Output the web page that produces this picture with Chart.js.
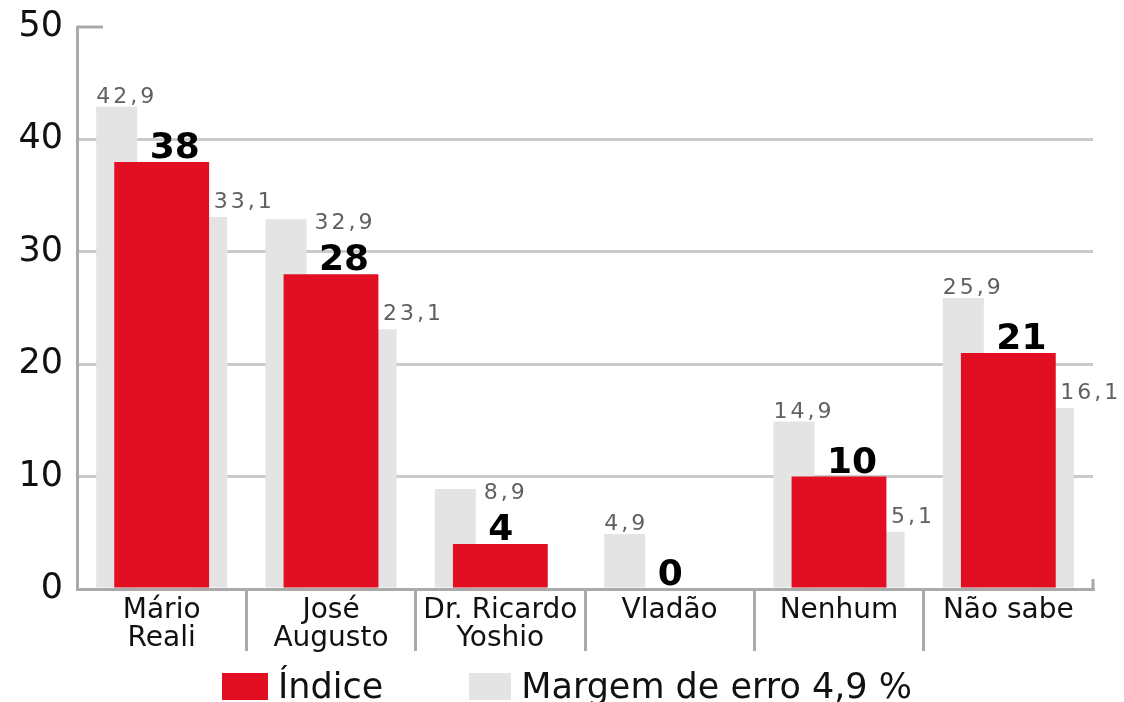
<!DOCTYPE html>
<html>
<head>
<meta charset="utf-8">
<script src="https://cdn.jsdelivr.net/npm/chart.js@4.4.1/dist/chart.umd.min.js"></script>
<style>
  html, body { margin: 0; padding: 0; background: #fff; overflow: hidden; }
  #wrap { position: relative; width: 1124px; height: 702px; overflow: hidden; }
  #legend { position: absolute; left: 222px; top: 673px; display: flex; align-items: center;
            font-family: "DejaVu Sans", sans-serif; font-size: 35px; color: #111; line-height: 27px; }
  #legend .box { display: inline-block; height: 27px; margin-right: 10px; }
  #legend .item { display: flex; align-items: center; margin-right: 86px; }
</style>
</head>
<body>
<div id="wrap">
  <canvas id="chart" width="1124" height="702"></canvas>
  <div id="legend"></div>
</div>
<script>
// data
const categories = [['Mário', 'Reali'], ['José', 'Augusto'], ['Dr. Ricardo', 'Yoshio'], ['Vladão'], ['Nenhum'], ['Não sabe']];
const indice = [38, 28, 4, 0, 10, 21];
const margemAlta = [42.9, 32.9, 8.9, 4.9, 14.9, 25.9];
const margemBaixa = [33.1, 23.1, null, null, 5.1, 16.1];
const yTicks = [0, 10, 20, 30, 40, 50];
const seriesNames = ['Índice', 'Margem de erro 4,9 %'];

const RED = '#e20e21';
const GRAY = '#e3e4e3';
const AXIS = '#aaaaaa';

Chart.defaults.font.family = '"DejaVu Sans", sans-serif';

// upper margin labels that sit beside the bar instead of on top
const besideLabels = [1, 2];

const valueLabels = {
  id: 'valueLabels',
  afterDatasetsDraw(chart) {
    const ctx = chart.ctx;
    ctx.save();
    chart.data.datasets.forEach((ds, di) => {
      const meta = chart.getDatasetMeta(di);
      meta.data.forEach((bar, i) => {
        const v = ds.data[i];
        if (v === null || v === undefined) return;
        ctx.textAlign = 'left';
        ctx.textBaseline = 'alphabetic';
        if (di === 0) {
          ctx.font = 'bold 36px "DejaVu Sans"';
          ctx.fillStyle = '#000';
          ctx.letterSpacing = '0px';
          ctx.fillText(String(v), bar.x - 12, bar.y - 4);
          return;
        }
        ctx.font = '22px "DejaVu Sans"';
        ctx.fillStyle = '#606060';
        ctx.letterSpacing = '3px';
        const txt = v.toFixed(1).replace('.', ',');
        if (di === 1) {
          if (besideLabels.includes(i)) {
            ctx.fillText(txt, bar.x + bar.width / 2 + 8, bar.y + 10);
          } else {
            ctx.fillText(txt, bar.x - bar.width / 2, bar.y - 4);
          }
        } else {
          ctx.fillText(txt, bar.x + 7, bar.y - 9);
        }
      });
    });
    ctx.restore();
  }
};

// short tick at the top of the value axis and at the right end of the base line
const axisEnds = {
  id: 'axisEnds',
  afterDraw(chart) {
    const {ctx, chartArea, scales} = chart;
    const yTop = scales.y.getPixelForValue(yTicks[yTicks.length - 1]);
    ctx.save();
    ctx.strokeStyle = AXIS;
    ctx.lineWidth = 3;
    ctx.beginPath();
    ctx.moveTo(chartArea.left, yTop);
    ctx.lineTo(chartArea.left + 26, yTop);
    ctx.moveTo(chartArea.right, chartArea.bottom - 10);
    ctx.lineTo(chartArea.right, chartArea.bottom);
    ctx.stroke();
    ctx.restore();
  }
};

const chart = new Chart(document.getElementById('chart'), {
  type: 'bar',
  data: {
    labels: categories,
    datasets: [
      {
        label: seriesNames[0],
        data: indice,
        backgroundColor: RED,
        grouped: false,
        order: 0,
        categoryPercentage: 1,
        barPercentage: 0.56
      },
      {
        label: seriesNames[1],
        data: margemAlta,
        backgroundColor: GRAY,
        order: 1,
        categoryPercentage: 1.063,
        barPercentage: 0.456
      },
      {
        label: seriesNames[1],
        data: margemBaixa,
        backgroundColor: GRAY,
        order: 1,
        categoryPercentage: 1.063,
        barPercentage: 0.456
      }
    ]
  },
  options: {
    responsive: false,
    animation: false,
    layout: { padding: { top: 27, right: 31, left: 0, bottom: 0 } },
    plugins: {
      legend: { display: false },
      tooltip: { enabled: false }
    },
    scales: {
      x: {
        offset: true,
        afterFit: (scale) => { scale.height = 113; scale.paddingLeft = 0; scale.paddingRight = 0; },
        border: { display: true, color: AXIS, width: 3 },
        grid: {
          offset: true,
          drawOnChartArea: false,
          drawTicks: true,
          tickLength: 62,
          lineWidth: 3,
          color: (c) => (c.index > 0 ? AXIS : 'rgba(0,0,0,0)'),
          tickColor: (c) => (c.index > 0 ? AXIS : 'rgba(0,0,0,0)')
        },
        ticks: {
          autoSkip: false,
          maxRotation: 0,
          padding: -54,
          color: '#111',
          font: { size: 28, lineHeight: 1.0 }
        }
      },
      y: {
        min: 0,
        max: 50,
        afterFit: (scale) => { scale.width = 77; scale.paddingTop = 0; scale.paddingBottom = 0; },
        afterBuildTicks: (scale) => { scale.ticks = yTicks.map(v => ({ value: v })); },
        border: { display: true, color: AXIS, width: 3 },
        grid: {
          drawTicks: false,
          lineWidth: 3,
          color: (c) => (c.tick && c.tick.value > 0 && c.tick.value < 50 ? '#cbcbcb' : 'rgba(0,0,0,0)')
        },
        ticks: {
          padding: 14,
          color: '#111',
          font: { size: 35 }
        }
      }
    }
  },
  plugins: [valueLabels, axisEnds]
});

// legend: one entry per series
const legend = document.getElementById('legend');
[[seriesNames[0], RED, 46], [seriesNames[1], GRAY, 42]].forEach(([name, color, w]) => {
  const item = document.createElement('span');
  item.className = 'item';
  const box = document.createElement('span');
  box.className = 'box';
  box.style.background = color;
  box.style.width = w + 'px';
  const txt = document.createElement('span');
  txt.textContent = name;
  item.appendChild(box);
  item.appendChild(txt);
  legend.appendChild(item);
});
</script>
</body>
</html>
